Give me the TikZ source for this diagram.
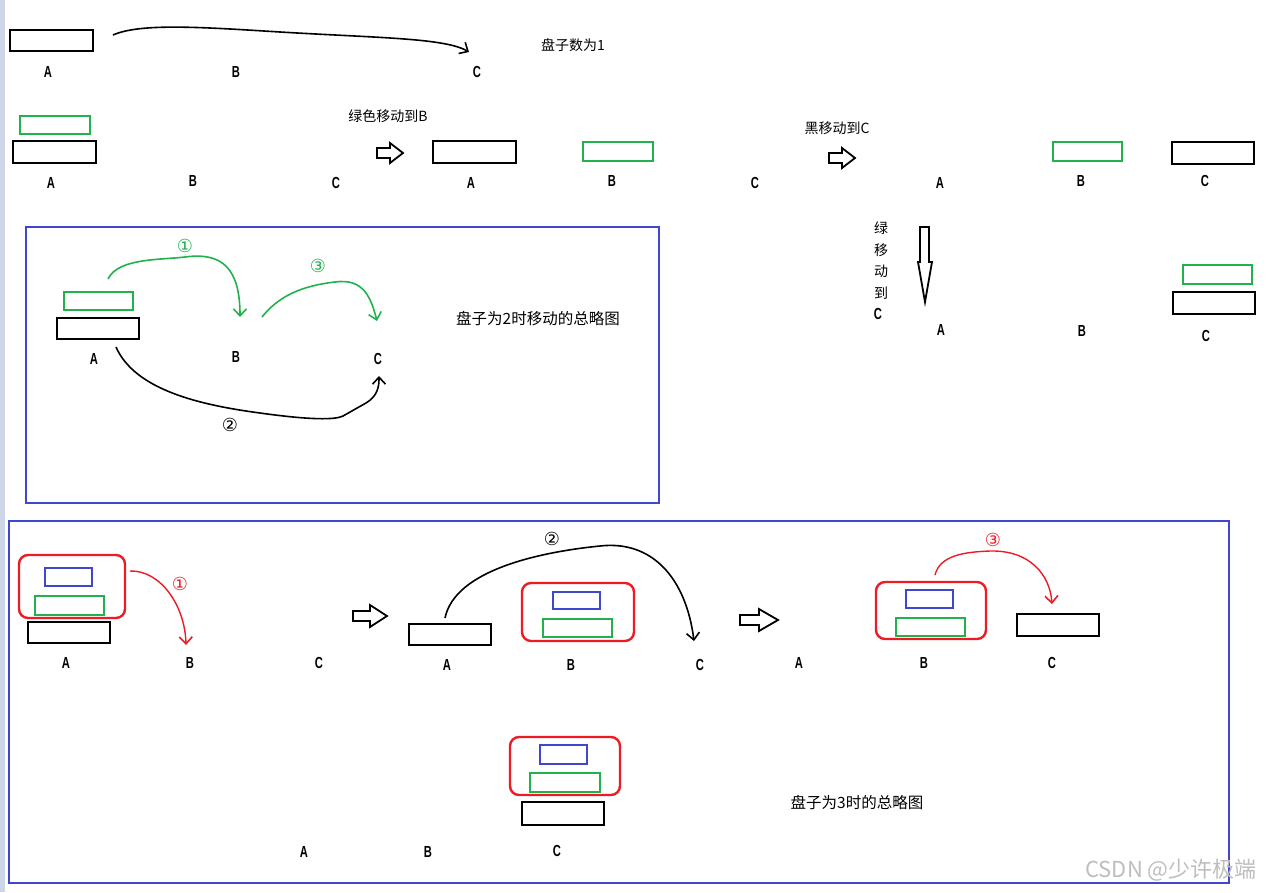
\documentclass[tikz,border=0pt]{standalone}
\usepackage{fontspec}
\usetikzlibrary{arrows.meta}
\newfontfamily\cjk{Noto Sans CJK SC}
\newfontfamily\numfont{DejaVu Sans}
\newfontfamily\labfont[FakeStretch=0.7]{Liberation Sans}
\definecolor{pgreen}{RGB}{34,177,76}
\definecolor{pblue}{RGB}{63,72,204}
\definecolor{pred}{RGB}{237,28,36}
\definecolor{strip}{RGB}{205,214,230}
\definecolor{wmark}{RGB}{190,190,190}
\tikzset{
  disk/.style={draw, rectangle, inner sep=0pt, line width=2.2pt},
  bdisk/.style={disk, black, minimum width=82, minimum height=21},
  gdisk/.style={disk, pgreen, line width=2pt, minimum width=69, minimum height=18},
  udisk/.style={disk, pblue, line width=2pt, minimum width=47, minimum height=18},
  grp/.style={draw=pred, line width=2.4pt, rounded corners=9pt, rectangle, inner sep=0pt},
  frame/.style={draw=pblue, line width=2pt},
  lab/.style={font=\labfont\bfseries\fontsize{16}{16}\selectfont, inner sep=0pt},
  cjkt/.style={font=\cjk\fontsize{14}{14}\selectfont, inner sep=0pt},
  cjkb/.style={font=\cjk\fontsize{15.5}{15.5}\selectfont, inner sep=0pt},
  num/.style={font=\numfont\fontsize{18}{18}\selectfont, inner sep=0pt},
  move/.style={line width=1.6pt, -{Straight Barb[length=7pt,width=13pt,line width=1.6pt]}},
  hollow/.style={draw, line width=1.8pt, line join=miter, fill=white},
}
\begin{document}
\begin{tikzpicture}[x=1pt,y=-1pt]
\useasboundingbox (0,0) rectangle (1269,892);
\fill[white] (0,0) rectangle (1269,892);
\fill[strip] (0,0) rectangle (5,892);

% ---------- Row 1 : one disk ----------
\node[bdisk, minimum width=83] (r1a) at (51.5,40.5) {};
\node[lab] (r1A) at (48,72) {A};
\node[lab] (r1B) at (236,72) {B};
\node[lab] (r1C) at (477,72) {C};
\node[cjkt] (t1) at (573,45) {盘子数为1};
\coordinate (r1s) at (113,35);
\coordinate (r1e) at (469,52);
\draw[move] (r1s) .. controls (140,23) and (200,27) .. (280,32) .. controls (380,38) and (445,38) .. (r1e);

% ---------- Row 2 : two disks ----------
\node[gdisk, minimum width=70] (r2g) at (55,125) {};
\node[bdisk, minimum width=83, minimum height=22] (r2b) at (54.5,152) {};
\node[lab] (r2A) at (51,183) {A};
\node[lab] (r2B) at (193,181) {B};
\node[lab] (r2C) at (336,183) {C};
\node[cjkt] (t2) at (388,116) {绿色移动到B};
\draw[hollow] (377,148) -- (390,148) -- (390,143) -- (403,153) -- (390,163) -- (390,158) -- (377,158) -- cycle;
\node[bdisk, minimum width=83, minimum height=22] (r2b2) at (474.5,152) {};
\node[lab] (r2A2) at (471,183) {A};
\node[gdisk, minimum width=70, minimum height=19] (r2g2) at (618,151.5) {};
\node[lab] (r2B2) at (612,181) {B};
\node[lab] (r2C2) at (755,183) {C};
\node[cjkt] (t3) at (837,128) {黑移动到C};
\draw[hollow] (829,153) -- (842,153) -- (842,148) -- (855,158) -- (842,168) -- (842,163) -- (829,163) -- cycle;
\node[lab] (r2A3) at (940,183) {A};
\node[gdisk, minimum height=19] (r2g3) at (1087.5,151.5) {};
\node[lab] (r2B3) at (1081,181) {B};
\node[bdisk, minimum height=22] (r2b3) at (1213,153) {};
\node[lab] (r2C3) at (1205,181) {C};

% vertical move
\draw[hollow] (920,227) -- (929,227) -- (929,262) -- (932,262) -- (925,302) -- (918,262) -- (920,262) -- cycle;
\node[cjkt] (v1) at (881,228) {绿};
\node[cjkt] (v2) at (881,250) {移};
\node[cjkt] (v3) at (881,271) {动};
\node[cjkt] (v4) at (881,293) {到};
\node[lab] (v5) at (878,314) {C};
\node[lab] (r3A) at (941,330) {A};
\node[lab] (r3B) at (1082,331) {B};
\node[gdisk, minimum height=19] (r3g) at (1217.5,274.5) {};
\node[bdisk, minimum height=22] (r3b) at (1214,303) {};
\node[lab] (r3C) at (1206,336) {C};

% ---------- Box for 2 disks ----------
\draw[frame] (26,227) rectangle (659,503);
\node[gdisk] (b2g) at (98.5,301) {};
\node[bdisk] (b2b) at (98,328.5) {};
\node[lab] (b2A) at (94,359) {A};
\node[lab] (b2B) at (236,357) {B};
\node[lab] (b2C) at (378,359) {C};
\node[cjkb] (t4) at (538,319) {盘子为2时移动的总略图};
\coordinate (g1s) at (108,279);
\coordinate (g1e) at (240,317);
\draw[move, pgreen] (g1s) .. controls (118,258) and (160,260) .. (185,257) .. controls (222,252) and (240,268) .. (g1e);
\node[num, text=pgreen] (n1) at (185,246) {①};
\coordinate (g3s) at (262,317);
\coordinate (g3e) at (377,321);
\draw[move, pgreen] (g3s) .. controls (278,297) and (300,286) .. (335,282) .. controls (364,278) and (371,298) .. (g3e);
\node[num, text=pgreen] (n3) at (318,266) {③};
\coordinate (k2s) at (116,347);
\coordinate (k2e) at (379,376);
\draw[move] (k2s) .. controls (135,390) and (200,405) .. (260,413) .. controls (310,420) and (335,420) .. (343,416) -- (366,403) .. controls (378,396) and (379,386) .. (k2e);
\node[num] (n2) at (230,425) {②};

% ---------- Box for 3 disks ----------
\draw[frame] (9,521) rectangle (1229,883);
% state 1
\node[grp, minimum width=106, minimum height=63] (g31) at (72,586.5) {};
\node[udisk] (u31) at (68.5,577) {};
\node[gdisk, minimum height=19] (gg31) at (69.5,605.5) {};
\node[bdisk] (k31) at (69,632.5) {};
\node[lab] (s1A) at (66,663) {A};
\node[lab] (s1B) at (190,663) {B};
\node[lab] (s1C) at (319,663) {C};
\coordinate (q1s) at (130,571);
\coordinate (q1e) at (186,645);
\draw[move, pred, line width=1.4pt] (q1s) .. controls (160,570) and (185,605) .. (q1e);
\node[num, text=pred] (m1) at (180,584) {①};
\draw[hollow] (353,611) -- (370,611) -- (370,605) -- (387,616) -- (370,627) -- (370,621) -- (353,621) -- cycle;
% state 2
\node[bdisk] (k32) at (450,634.5) {};
\node[lab] (s2A) at (447,665) {A};
\node[grp, minimum width=112, minimum height=58] (g32) at (578,612) {};
\node[udisk, minimum height=17] (u32) at (576.5,600.5) {};
\node[gdisk] (gg32) at (577.5,628) {};
\node[lab] (s2B) at (571,665) {B};
\node[lab] (s2C) at (700,665) {C};
\coordinate (q2s) at (445,618);
\coordinate (q2e) at (694,641);
\draw[move] (q2s) .. controls (455,570) and (540,552) .. (600,546) .. controls (652,540) and (686,578) .. (q2e);
\node[num] (m2) at (552,539) {②};
\draw[hollow] (740,615) -- (759,615) -- (759,609) -- (778,620) -- (759,631) -- (759,625) -- (740,625) -- cycle;
% state 3
\node[lab] (s3A) at (799,663) {A};
\node[grp, minimum width=110, minimum height=57] (g33) at (931,610.5) {};
\node[udisk] (u33) at (929.5,599) {};
\node[gdisk] (gg33) at (930.5,627) {};
\node[lab] (s3B) at (924,663) {B};
\node[bdisk, minimum height=22] (k33) at (1058,625) {};
\node[lab] (s3C) at (1052,663) {C};
\coordinate (q3s) at (935,575);
\coordinate (q3e) at (1052,604);
\draw[move, pred, line width=1.4pt] (q3s) .. controls (940,555) and (965,552) .. (990,551) .. controls (1030,550) and (1050,575) .. (q3e);
\node[num, text=pred] (m3) at (993,540) {③};
% final state
\node[grp, minimum width=110, minimum height=58] (g34) at (565,766) {};
\node[udisk, minimum height=19] (u34) at (563.5,754.5) {};
\node[gdisk, minimum width=70, minimum height=19] (gg34) at (565,782.5) {};
\node[bdisk, minimum height=23] (k34) at (563,813.5) {};
\node[lab] (s4A) at (304,852) {A};
\node[lab] (s4B) at (428,852) {B};
\node[lab] (s4C) at (557,851) {C};
\node[cjkb] (t5) at (857,803) {盘子为3时的总略图};

% watermark
\node[font=\cjk\fontsize{22}{22}\selectfont, text=wmark, inner sep=0pt] (wm) at (1171,870) {CSDN @少许极端};
\end{tikzpicture}
\end{document}
